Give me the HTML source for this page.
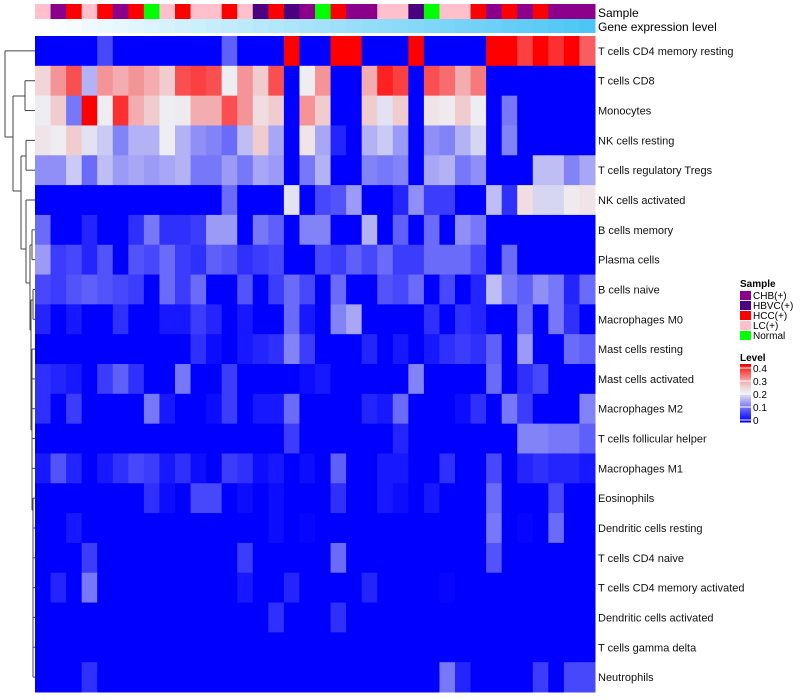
<!DOCTYPE html>
<html><head><meta charset="utf-8"><style>
html,body{margin:0;padding:0;background:#fff;}
svg{display:block;font-family:"Liberation Sans",sans-serif;}
</style></head><body>
<svg id="chart" width="800" height="700" viewBox="0 0 800 700"></svg>
<script>
const rowNames=["T cells CD4 memory resting","T cells CD8","Monocytes","NK cells resting","T cells regulatory  Tregs","NK cells activated","B cells memory","Plasma cells","B cells naive","Macrophages M0","Mast cells resting","Mast cells activated","Macrophages M2","T cells follicular helper","Macrophages M1","Eosinophils","Dendritic cells resting","T cells CD4 naive","T cells CD4 memory activated","Dendritic cells activated","T cells gamma delta","Neutrophils"];
const sampleGroups=["LC","CHB","HCC","LC","HCC","CHB","HCC","Normal","LC","HCC","LC","LC","HCC","LC","HBVC","HCC","HBVC","CHB","Normal","HCC","CHB","CHB","LC","LC","HBVC","Normal","LC","LC","HCC","CHB","HCC","CHB","HCC","CHB","CHB","CHB"];
const legendLabels=["CHB(+)","HBVC(+)","HCC(+)","LC(+)","Normal"];
const legendKeys=["CHB","HBVC","HCC","LC","Normal"];
const levelTicks=[0,0.1,0.2,0.3,0.4];
const r1=[0,0,0,0,0.06,0,0,0,0,0,0,0,0.08,0,0,0,0.4,0,0,0.4,0.4,0,0,0,0.4,0,0,0,0,0.4,0.4,0.36,0.4,0.37,0.4,0.34];
const r2=[0.24,0.3,0.35,0.15,0.3,0.28,0.3,0.28,0.25,0.35,0.36,0.35,0.2,0.3,0.25,0.35,0,0.2,0.3,0,0,0.28,0.38,0.36,0,0.35,0.33,0.28,0.32,0,0,0,0,0,0,0];
const r3=[0.2,0.25,0.1,0.4,0.2,0.37,0.28,0.25,0.2,0.21,0.28,0.28,0.35,0.3,0.23,0.25,0,0.3,0.25,0,0,0.25,0.19,0.25,0,0.22,0.21,0.25,0.2,0,0.1,0,0,0,0,0];
const r4=[0.22,0.2,0.25,0.19,0.17,0.11,0.15,0.15,0.2,0.15,0.12,0.11,0.09,0.16,0.25,0.14,0,0.22,0.14,0.03,0,0.15,0.17,0.13,0,0.12,0.11,0.15,0.18,0,0.11,0,0,0,0,0];
const r5=[0.12,0.12,0.17,0.09,0.16,0.13,0.14,0.13,0.14,0.15,0.1,0.1,0.13,0.1,0.14,0.13,0,0.1,0.15,0,0,0.11,0.1,0.11,0,0.14,0.15,0.1,0.12,0,0,0,0.16,0.16,0.11,0.14];
const r6=[0,0,0,0,0,0,0,0,0,0,0,0,0.09,0,0,0,0.19,0,0.06,0.07,0.13,0,0,0.03,0.12,0.05,0.05,0,0,0.16,0.04,0.23,0.18,0.18,0.21,0.22];
const r7=[0.09,0,0,0.03,0,0,0.04,0.1,0.04,0.04,0.05,0.13,0.13,0,0.1,0.08,0,0.11,0.11,0,0,0.15,0,0.08,0,0.09,0,0.12,0.1,0,0,0,0,0,0,0];
const r8=[0.13,0.05,0.06,0.03,0.07,0,0.07,0.06,0.09,0.05,0.04,0.08,0.07,0.04,0.05,0.06,0,0,0.06,0.05,0.08,0.06,0.09,0.05,0.05,0.09,0.09,0.09,0.06,0,0.09,0,0,0,0,0];
const r9=[0.06,0.05,0.07,0.08,0.07,0.06,0.05,0,0.09,0.05,0.09,0,0,0.07,0,0.05,0.09,0.06,0,0.09,0,0,0.07,0.06,0.09,0,0.06,0,0.03,0.16,0.1,0.08,0.12,0.1,0.03,0.09];
const r10=[0.03,0,0.02,0,0,0.04,0,0,0.02,0.02,0.05,0.03,0,0.02,0,0,0.09,0.02,0,0.11,0.14,0,0,0,0,0.04,0,0.04,0.03,0,0,0.09,0,0.1,0.04,0];
const r11=[0,0,0,0,0,0,0,0,0,0,0.04,0.01,0,0.02,0.03,0.04,0.11,0.05,0,0,0,0.03,0,0.02,0,0.02,0.04,0.05,0.04,0.08,0,0.13,0,0,0.09,0.08];
const r12=[0.04,0.03,0.02,0,0.05,0.08,0.04,0,0,0.1,0,0,0.05,0,0,0,0,0.01,0.02,0,0,0,0,0,0.11,0,0,0,0,0.09,0,0.04,0.06,0,0,0];
const r13=[0.04,0,0.05,0,0,0,0,0.1,0.02,0,0,0.01,0.05,0,0.02,0.02,0.09,0,0,0,0,0.03,0.02,0.09,0,0,0,0.01,0.04,0,0.1,0.05,0,0,0,0.11];
const r14=[0,0,0,0,0,0,0,0,0,0,0,0,0,0,0,0,0.05,0,0,0,0,0,0,0.03,0,0,0,0,0,0,0,0.11,0.11,0.1,0.1,0.08];
const r15=[0.02,0.07,0.03,0,0.02,0.04,0.06,0.05,0.02,0.04,0.01,0,0.05,0.04,0.01,0.02,0,0.01,0,0.08,0,0,0.02,0.02,0,0,0.04,0,0,0.06,0,0.03,0.04,0.03,0.03,0.02];
const r16=[0,0,0,0,0,0,0,0.04,0.01,0,0.06,0.06,0,0.01,0,0.01,0,0,0,0.04,0,0,0.02,0.01,0,0.02,0,0,0,0.09,0,0,0,0.06,0,0];
const r17=[0,0,0.02,0,0,0,0,0,0,0,0,0,0,0,0,0.01,0,0.005,0,0,0,0,0,0,0,0,0,0,0,0.1,0,0.005,0,0.09,0,0];
const r18=[0,0,0,0.05,0,0,0,0,0,0,0,0,0,0.05,0,0,0,0,0,0.09,0,0,0,0,0,0,0,0,0,0.07,0,0,0,0,0,0];
const r19=[0,0.03,0,0.1,0,0,0,0,0,0,0,0,0,0.02,0,0,0.03,0,0,0,0,0.03,0,0,0,0,0.005,0,0,0,0,0,0,0,0,0];
const r20=[0,0,0,0,0,0,0,0,0,0,0,0,0,0,0,0.04,0,0,0,0.04,0,0,0,0,0,0,0,0,0,0,0,0,0,0,0,0];
const r21=[0,0,0,0,0,0,0,0,0,0,0,0,0,0,0,0,0,0,0,0,0,0,0,0,0,0,0,0,0,0,0,0,0,0,0,0];
const r22=[0,0,0,0.04,0,0,0,0,0,0,0,0,0,0,0,0,0,0,0,0,0,0,0,0,0,0,0.1,0.03,0,0,0,0,0.05,0,0.06,0.06];
const values=[r1,r2,r3,r4,r5,r6,r7,r8,r9,r10,r11,r12,r13,r14,r15,r16,r17,r18,r19,r20,r21,r22];

const NS="http://www.w3.org/2000/svg";
const svg=document.getElementById('chart');
const X0=35,X1=595,Y0=36,Y1=692;
const nC=sampleGroups.length,nR=rowNames.length;
const cw=(X1-X0)/nC,rh=(Y1-Y0)/nR;
const xPos=i=>X0+i*cw;
const yPos=j=>Y0+j*rh;
const groupColor={CHB:"#8b008b",HBVC:"#4b0082",HCC:"#ff0000",LC:"#ffc0cb",Normal:"#00ff00"};
function lerp(a,b,t){return a.map((v,i)=>Math.round(v+(b[i]-v)*t));}
function colorOf(v){
  const t=Math.max(0,Math.min(1,v/0.4));
  let c;
  if(t<0.5)c=lerp([0,0,255],[238,238,242],t/0.5);
  else c=lerp([238,238,242],[255,0,0],Math.pow((t-0.5)/0.5,1.4));
  return `rgb(${c[0]},${c[1]},${c[2]})`;
}
function mk(tag,attrs,parent){const e=document.createElementNS(NS,tag);for(const k in attrs)e.setAttribute(k,attrs[k]);(parent||svg).appendChild(e);return e;}

const gS=mk('g',{});


sampleGroups.forEach((g,i)=>{
  const r=mk('rect',{x:xPos(i),y:4,width:cw+0.5,height:15,fill:groupColor[g]},gS);
  
  
});
const gG=mk('g',{});


sampleGroups.forEach((g,i)=>{
  const c=lerp([255,255,255],[77,198,245],i/(nC-1));
  const r=mk('rect',{x:xPos(i),y:19,width:cw+0.5,height:14,fill:`rgb(${c})`},gG);
  
  
});
let t=mk('text',{x:598,y:17,'font-size':12,fill:'#000'});t.textContent='Sample';


t=mk('text',{x:598,y:31,'font-size':12,fill:'#000'});t.textContent='Gene expression level';



const gH=mk('g',{});


values.forEach((row,j)=>{
  row.forEach((v,i)=>{
    const r=mk('rect',{x:xPos(i),y:yPos(j),width:cw+0.5,height:rh+0.5,fill:colorOf(v)},gH);
    
    
  });
  const lb=mk('text',{x:598,y:yPos(j)+rh/2+4,'font-size':11,fill:'#111'});
  lb.textContent=rowNames[j];
  
  
});

const gD=mk('g',{stroke:'#444','stroke-width':1,fill:'none'});


const yc=j=>yPos(j)+rh/2;
const segs=[
 [5,yc(0),35,yc(0)],[5,yc(0),5,137],[5,137,13,137],
 [13,96,13,191],[13,96,25,96],[25,yc(1),25,yc(2)],[25,yc(1),35,yc(1)],[25,yc(2),35,yc(2)],
 [13,191,21,191],[21,156,21,249],[21,156,26,156],[26,yc(3),26,yc(4)],[26,yc(3),35,yc(3)],[26,yc(4),35,yc(4)],
 [21,249,26,249],[26,yc(5),26,283],[26,yc(5),35,yc(5)],[26,283,30,283],
 [30,245,30,330],[30,245,32,245],[32,yc(6),32,yc(7)],[32,yc(6),35,yc(6)],[32,yc(7),35,yc(7)],
 [30,330,31,330],[31,300,31,430],[31,300,33,300],[33,yc(8),33,yc(9)],[33,yc(8),35,yc(8)],[33,yc(9),35,yc(9)],
 [31,430,32,430],[32,yc(10),32,510],[32,yc(10),35,yc(10)],[32,yc(11),35,yc(11)],[32,yc(12),35,yc(12)],
 [32,yc(13),35,yc(13)],[32,yc(14),35,yc(14)],[32,510,33,510],
 [33,yc(15),33,yc(21)],[33,yc(15),35,yc(15)],[33,yc(16),35,yc(16)],[33,yc(17),35,yc(17)],[33,yc(18),35,yc(18)],[33,yc(19),35,yc(19)],[33,yc(20),35,yc(20)],[33,yc(21),35,yc(21)]
];
segs.forEach(s=>{
  const l=mk('line',{x1:s[0],y1:s[1],x2:s[2],y2:s[3]},gD);
  
  
});

const gL=mk('g',{});


t=mk('text',{x:740,y:287,'font-size':10,'font-weight':'bold'},gL);t.textContent='Sample';


legendKeys.forEach((k,i)=>{
  const r=mk('rect',{x:740,y:291+i*10,width:11,height:9,fill:groupColor[k]},gL);
  
  
  const tx=mk('text',{x:753,y:299+i*10,'font-size':10},gL);tx.textContent=legendLabels[i];
  
  
});
const gC=mk('g',{});


t=mk('text',{x:740,y:361,'font-size':10,'font-weight':'bold'},gC);t.textContent='Level';


const cbTop=364,cbBot=422;
for(let k=0;k<30;k++){
  const r=mk('rect',{x:740,y:cbTop+k*(cbBot-cbTop)/30,width:11,height:(cbBot-cbTop)/30+0.5,fill:colorOf(0.4-k*0.4/29)},gC);
  
  
}
const tY=v=>420-(v/0.4)*(420-368);
levelTicks.forEach(v=>{
  const l=mk('line',{x1:740,x2:751,y1:tY(v),y2:tY(v),stroke:'#fff','stroke-width':1},gC);
  
  
  const tx=mk('text',{x:753,y:tY(v)+4,'font-size':10},gC);tx.textContent=String(v);
  
  
});
</script>
</body></html>
